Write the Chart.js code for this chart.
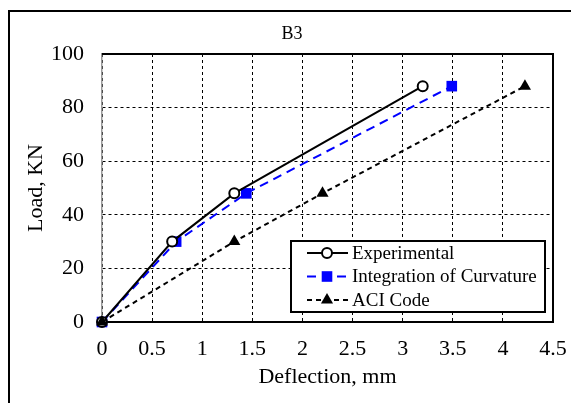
<!DOCTYPE html>
<html>
<head>
<meta charset="utf-8">
<script src="https://cdn.jsdelivr.net/npm/chart.js@4/dist/chart.umd.min.js"></script>
<style>
  html, body { margin: 0; padding: 0; background: #fff; }
  #wrap { width: 571px; height: 403px; }
</style>
</head>
<body>
<div id="wrap"><canvas id="myChart" width="571" height="403"></canvas></div>
<script>
// deflection (mm) / load (kN)
const expX = [0, 0.70, 1.32, 3.20];
const expY = [0, 30, 48, 88];
const curvX = [0, 0.74, 1.44, 3.49];
const curvY = [0, 30, 48, 88];
const aciX = [0, 1.32, 2.20, 4.22];
const aciY = [0, 30, 48, 88];
const seriesNames = ["Experimental", "Integration of Curvature", "ACI Code"];
const chartTitle = "B3";

const serif = "'Liberation Serif', 'Times New Roman', serif";

function toPoints(xs, ys) {
  return xs.map((x, i) => ({ x: x, y: ys[i] }));
}

// outer frame (top + left only), title, and top/right edges of the plot box
const frame = {
  id: "frame",
  beforeDraw(chart) {
    const ctx = chart.ctx;
    ctx.save();
    ctx.fillStyle = "#fff";
    ctx.fillRect(0, 0, chart.width, chart.height);
    ctx.strokeStyle = "#000";
    ctx.lineWidth = 2;
    ctx.beginPath();
    ctx.moveTo(9, chart.height);
    ctx.lineTo(9, 11);
    ctx.lineTo(chart.width, 11);
    ctx.stroke();
    ctx.fillStyle = "#000";
    ctx.font = "18px " + serif;
    ctx.textAlign = "center";
    ctx.textBaseline = "middle";
    ctx.fillText(chartTitle, 292, 34);
    ctx.restore();
  },
  beforeDatasetsDraw(chart) {
    const a = chart.chartArea;
    const ctx = chart.ctx;
    ctx.save();
    ctx.strokeStyle = "#000";
    ctx.lineWidth = 2;
    ctx.beginPath();
    ctx.moveTo(a.left, a.top);
    ctx.lineTo(a.right, a.top);
    ctx.lineTo(a.right, a.bottom);
    ctx.stroke();
    ctx.restore();
  }
};

// legend box inside the plot, line + marker samples
const boxLegend = {
  id: "boxLegend",
  afterDraw(chart) {
    const ctx = chart.ctx;
    const bx = 291, by = 241, bw = 254, bh = 71;
    ctx.save();
    ctx.fillStyle = "#fff";
    ctx.fillRect(bx, by, bw, bh);
    ctx.strokeStyle = "#000";
    ctx.lineWidth = 2;
    ctx.strokeRect(bx, by, bw, bh);
    chart.data.datasets.forEach((ds, i) => {
      const y = 253 + i * 23.5;
      ctx.save();
      ctx.strokeStyle = ds.borderColor;
      ctx.lineWidth = ds.borderWidth;
      ctx.setLineDash(ds.borderDash || []);
      ctx.beginPath();
      ctx.moveTo(307, y);
      ctx.lineTo(348, y);
      ctx.stroke();
      ctx.restore();
      ctx.save();
      ctx.fillStyle = ds.pointBackgroundColor;
      ctx.strokeStyle = ds.pointBorderColor;
      ctx.lineWidth = ds.pointBorderWidth;
      Chart.helpers.drawPoint(ctx, {
        pointStyle: ds.pointStyle,
        radius: ds.pointRadius,
        borderWidth: ds.pointBorderWidth
      }, 327, y);
      ctx.restore();
      ctx.fillStyle = "#000";
      ctx.font = "19px " + serif;
      ctx.textBaseline = "middle";
      ctx.textAlign = "left";
      ctx.fillText(ds.label, 352, y + 1);
    });
    ctx.restore();
  }
};

const ctx = document.getElementById("myChart").getContext("2d");
const myChart = new Chart(ctx, {
  type: "line",
  data: {
    datasets: [
      {
        label: seriesNames[0],
        data: toPoints(expX, expY),
        borderColor: "#000",
        borderWidth: 2,
        pointStyle: "circle",
        pointRadius: 5,
        pointBorderWidth: 2,
        pointBackgroundColor: "#fff",
        pointBorderColor: "#000",
        clip: false,
        order: 1
      },
      {
        label: seriesNames[1],
        data: toPoints(curvX, curvY),
        borderColor: "#0000ff",
        borderWidth: 2,
        borderDash: [9, 6],
        pointStyle: "rect",
        pointRadius: 7.5,
        pointBorderWidth: 0,
        pointBackgroundColor: "#0000ff",
        pointBorderColor: "#0000ff",
        clip: false,
        order: 2
      },
      {
        label: seriesNames[2],
        data: toPoints(aciX, aciY),
        borderColor: "#000",
        borderWidth: 2,
        borderDash: [5, 4],
        pointStyle: "triangle",
        pointRadius: 7,
        pointBorderWidth: 0,
        pointBackgroundColor: "#000",
        pointBorderColor: "#000",
        clip: false,
        order: 0
      }
    ]
  },
  options: {
    responsive: false,
    animation: false,
    layout: { padding: { left: 0, right: 18, top: 54, bottom: 0 } },
    plugins: {
      legend: { display: false },
      tooltip: { enabled: false },
      title: { display: false }
    },
    scales: {
      x: {
        type: "linear",
        min: 0,
        max: 4.5,
        afterFit(scale) {
          scale.height = 81;
          scale.paddingLeft = 0;
          scale.paddingRight = 0;
        },
        ticks: {
          stepSize: 0.5,
          color: "#000",
          padding: 14,
          font: { family: serif, size: 22 },
          callback: (v) => String(v)
        },
        grid: {
          color: "#000",
          lineWidth: 1,
          drawTicks: false
        },
        border: { color: "#000", width: 2, dash: [3, 3] },
        title: {
          display: true,
          text: "Deflection, mm",
          color: "#000",
          font: { family: serif, size: 22 },
          padding: { top: 0, bottom: 13 }
        }
      },
      y: {
        min: 0,
        max: 100,
        afterFit(scale) {
          scale.width = 102;
          scale.paddingTop = 0;
          scale.paddingBottom = 0;
        },
        ticks: {
          stepSize: 20,
          color: "#000",
          padding: 18,
          font: { family: serif, size: 22 }
        },
        grid: {
          color: "#000",
          lineWidth: 1,
          drawTicks: false
        },
        border: { color: "#999", width: 1.5, dash: [3, 3] },
        title: {
          display: true,
          text: "Load, KN",
          color: "#000",
          font: { family: serif, size: 22 },
          padding: { top: 23, bottom: 0 }
        }
      }
    }
  },
  plugins: [frame, boxLegend]
});
</script>
</body>
</html>
